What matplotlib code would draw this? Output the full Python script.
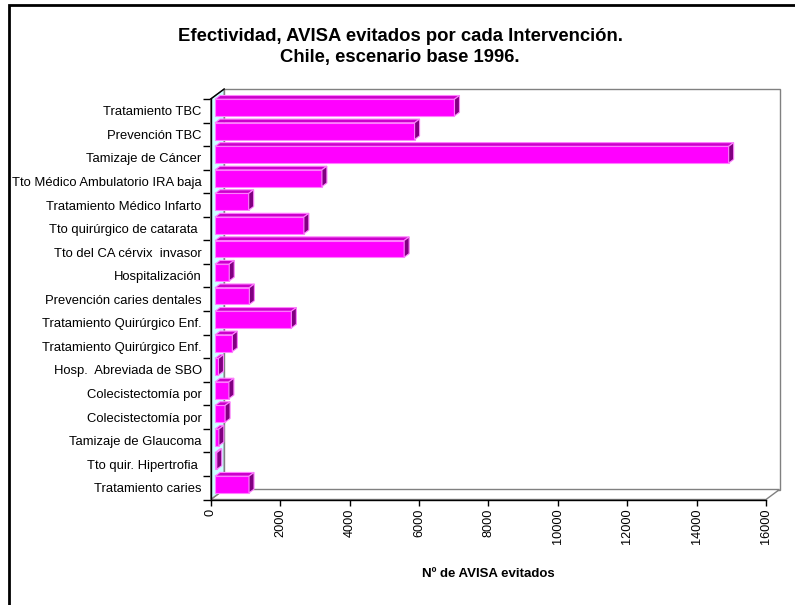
import matplotlib
matplotlib.use("Agg")
import matplotlib.pyplot as plt
from matplotlib.patches import Polygon, Rectangle
import numpy as np

plt.rcParams['font.family'] = ['Liberation Sans', 'DejaVu Sans']

categories = [
    "Tratamiento TBC",
    "Prevención TBC",
    "Tamizaje de Cáncer",
    "Tto Médico Ambulatorio IRA baja",
    "Tratamiento Médico Infarto",
    "Tto quirúrgico de catarata ",
    "Tto del CA cérvix  invasor",
    "Hospitalización",
    "Prevención caries dentales",
    "Tratamiento Quirúrgico Enf.",
    "Tratamiento Quirúrgico Enf.",
    "Hosp.  Abreviada de SBO",
    "Colecistectomía por",
    "Colecistectomía por",
    "Tamizaje de Glaucoma",
    "Tto quir. Hipertrofia ",
    "Tratamiento caries",
]
avisa = [6900, 5750, 14800, 3080, 970, 2560, 5450, 410, 990, 2200, 500,
         100, 400, 290, 110, 50, 980]
xticks = [0, 2000, 4000, 6000, 8000, 10000, 12000, 14000, 16000]
title = "Efectividad, AVISA evitados por cada Intervención.\nChile, escenario base 1996."
xlabel = "Nº de AVISA evitados"

W, H = 795, 605
fig = plt.figure(figsize=(W / 100, H / 100), dpi=100)

# front plane of plot area in pixels
x0p, x1p, y0p, y1p = 210.7, 766.0, 99.0, 499.5
ax = fig.add_axes([x0p / W, 1 - y1p / H, (x1p - x0p) / W, (y1p - y0p) / H])
n = len(categories)
xmax = xticks[-1]
ax.set_xlim(0, xmax)
ax.set_ylim(-0.5, n - 0.5)

# depth offset (pixels -> data)
dxp, dyp = 13.5, 10.0
dx = dxp / (x1p - x0p) * xmax
dy = dyp / (y1p - y0p) * n

gray = "#808080"
# back wall
ax.add_patch(Rectangle((dx, -0.5 + dy), xmax, n, facecolor="white",
                       edgecolor=gray, lw=1.0, clip_on=False, zorder=1))
# floor
ax.add_patch(Polygon([(0, -0.5), (xmax, -0.5), (xmax + dx, -0.5 + dy), (dx, -0.5 + dy)],
                     closed=True, facecolor="white", edgecolor=gray, lw=1.0,
                     clip_on=False, zorder=1.5))
# side wall
ax.add_patch(Polygon([(0, -0.5), (dx, -0.5 + dy), (dx, n - 0.5 + dy), (0, n - 0.5)],
                     closed=True, facecolor="#ccffff", edgecolor=gray, lw=1.0,
                     clip_on=False, zorder=2))
ax.plot([0, dx], [n - 0.5, n - 0.5 + dy], color="black", lw=1.0, clip_on=False, zorder=2.1)

# bars
f0, f1 = 0.32, 0.69
h = 0.355
ypos = np.arange(n)[::-1]  # first category at top
ox0, oy0 = f0 * dx, f0 * dy
ox1, oy1 = f1 * dx, f1 * dy
edge = "#ff7fff"
ax.barh(ypos + oy0, avisa, left=ox0, height=2 * h, color="#ff00ff",
        edgecolor=edge, lw=0.8, zorder=5, clip_on=False)
for yc, v in zip(ypos, avisa):
    top = [(ox0, yc + h + oy0), (v + ox0, yc + h + oy0),
           (v + ox1, yc + h + oy1), (ox1, yc + h + oy1)]
    side = [(v + ox0, yc - h + oy0), (v + ox1, yc - h + oy1),
            (v + ox1, yc + h + oy1), (v + ox0, yc + h + oy0)]
    ax.add_patch(Polygon(top, closed=True, facecolor="#cc00cc", edgecolor=edge,
                         lw=0.8, zorder=5, clip_on=False))
    ax.add_patch(Polygon(side, closed=True, facecolor="#800080", edgecolor=edge,
                         lw=0.8, zorder=5, clip_on=False))

# spines and ticks
for s in ["top", "right"]:
    ax.spines[s].set_visible(False)
for s in ["left", "bottom"]:
    ax.spines[s].set_color("black")
    ax.spines[s].set_linewidth(1.0)
    ax.spines[s].set_zorder(6)
ax.patch.set_visible(False)

ax.set_yticks(ypos)
ax.set_yticklabels(categories, fontsize=9.4)
ax.set_yticks(np.arange(-0.5, n, 1.0), minor=True)
ax.tick_params(axis="y", which="major", length=0, pad=6.5)
ax.tick_params(axis="y", which="minor", length=5.5, width=1.0, color="black")

ax.set_xticks(xticks)
ax.set_xticklabels([str(t) for t in xticks], rotation=90, fontsize=9.2, va="top")
ax.tick_params(axis="x", which="major", length=4.2, width=1.0, pad=2.5)

ax.set_xlabel(xlabel, fontsize=9.5, fontweight="bold", labelpad=17)

fig.text(400 / W, 1 - 47 / H, title, ha="center", va="center", fontsize=13.3,
         fontweight="bold", linespacing=1.3)

# outer frame
fig.add_artist(Rectangle((8.5 / W, -0.05), 1.2, 1 - 5.5 / H + 0.05,
                         transform=fig.transFigure, fill=False, edgecolor="black",
                         lw=2.0, clip_on=False))

fig.savefig("out.png", dpi=100)
